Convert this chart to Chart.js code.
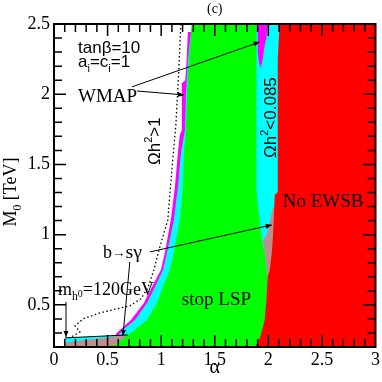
<!DOCTYPE html>
<html>
<head>
<meta charset="utf-8">
<script src="https://cdn.jsdelivr.net/npm/chart.js@4"></script>
<style>
  html, body { margin: 0; padding: 0; background: #fff; }
  canvas { display: block; }
</style>
</head>
<body>
<canvas id="grafico" width="382" height="382"></canvas>
<script>
// region boundaries, as [alpha, M0 (TeV)]
const magentaBand = [[1.249, 2.443], [1.6, 2.443], [1.6, 0.2], [0.569, 0.2], [0.569, 0.279], [0.587, 0.301],
  [0.718, 0.393], [0.839, 0.514], [0.913, 0.628], [0.997, 0.749], [1.034, 0.870], [1.090, 1.105],
  [1.128, 1.340], [1.156, 1.582], [1.174, 1.710], [1.193, 1.746], [1.193, 2.080], [1.225, 2.10], [1.236, 2.222]];
const cyanBand = [[1.286, 2.5], [2.2, 2.5], [2.2, 0.2], [0.103, 0.2], [0.103, 0.265], [0.60, 0.283],
  [0.643, 0.322], [0.755, 0.393], [0.867, 0.514], [0.941, 0.628], [1.016, 0.749], [1.053, 0.870],
  [1.118, 1.105], [1.156, 1.340], [1.184, 1.582], [1.212, 1.700], [1.222, 1.746], [1.231, 1.995], [1.250, 2.244]];
const graySlab = [[0.103, 0.2], [0.103, 0.232], [0.522, 0.270], [0.62, 0.282], [0.75, 0.282], [0.75, 0.2]];
const stopLSP = [[1.286, 2.5], [1.258, 2.244], [1.240, 1.995], [1.230, 1.746], [1.212, 1.582], [1.202, 1.340],
  [1.174, 1.105], [1.118, 0.870], [1.081, 0.749], [1.016, 0.628], [0.960, 0.514], [0.867, 0.393],
  [0.755, 0.322], [0.634, 0.251], [0.541, 0.2], [1.994, 0.2], [1.994, 0.699], [1.985, 0.749],
  [1.966, 0.870], [1.939, 0.963], [1.920, 1.105], [1.901, 1.212], [1.892, 1.304], [1.889, 2.5]];
const graySliver = [[2.041, 1.190], [2.2, 1.190], [2.2, 0.699], [1.994, 0.699], [1.985, 0.749], [1.966, 0.870],
  [1.948, 0.963], [1.985, 1.0], [2.013, 1.091]];
const noEWSB = [[2.106, 2.5], [2.097, 2.386], [2.088, 2.244], [2.088, 1.304], [2.060, 1.283], [2.050, 1.105],
  [2.041, 0.963], [2.032, 0.870], [2.013, 0.749], [1.994, 0.699], [1.982, 0.536], [1.966, 0.393],
  [1.936, 0.301], [1.901, 0.229], [1.873, 0.2], [3, 0.2], [3, 2.5]];
const wmapSpike = [[1.901, 2.5], [1.994, 2.5], [1.982, 2.40], [1.966, 2.351], [1.948, 2.25], [1.929, 2.187],
  [1.913, 2.22], [1.901, 2.30]];
const mh120 = [[1.184, 2.5], [1.165, 2.173], [1.137, 1.781], [1.100, 1.461], [1.062, 1.105], [0.988, 0.913],
  [0.932, 0.749], [0.876, 0.621], [0.811, 0.543], [0.708, 0.493], [0.587, 0.472], [0.429, 0.443],
  [0.270, 0.400], [0.196, 0.350], [0.242, 0.308], [0.149, 0.265]];

const xTicks = [0, 0.5, 1, 1.5, 2, 2.5, 3];
const yTicks = [0.5, 1, 1.5, 2, 2.5];

// arrows [from, to]
const setas = [
  [[0.727, 2.052], [1.920, 2.372]],
  [[0.774, 2.023], [1.212, 1.995]],
  [[0.895, 0.877], [2.032, 1.069]],
  [[0.708, 0.806], [0.643, 0.279]],
  [[0.112, 0.521], [0.112, 0.272]]
];
const linhaLEP = [[0.103, 0.265], [0.690, 0.286]];

const SERIF = 'Liberation Serif';
const SANS = 'Liberation Sans';
const notas = [
  { parts: [['tanβ=10', 1, 0]], at: [0.224, 2.296], family: SANS, size: 17 },
  { parts: [['a', 1, 0], ['i', 0.65, 5], ['=c', 1, 0], ['i', 0.65, 5], ['=1', 1, 0]], at: [0.224, 2.196], family: SANS, size: 17 },
  { parts: [['WMAP', 1, 0]], at: [0.224, 1.945], family: SERIF, size: 19 },
  { parts: [['Ωh', 1, 0], ['2', 0.65, -8], ['>1', 1, 0]], at: [0.988, 1.496], family: SANS, size: 17, rot: -Math.PI / 2 },
  { parts: [['Ωh', 1, 0], ['2', 0.65, -8], ['<0.085', 1, 0]], at: [2.075, 1.546], family: SANS, size: 17, rot: -Math.PI / 2 },
  { parts: [['No EWSB', 1, 0]], at: [2.134, 1.198], family: SERIF, size: 19 },
  { parts: [['b', 1, 0], ['→', 0.75, -1], ['sγ', 1.1, 0]], at: [0.457, 0.835], family: SERIF, size: 18 },
  { parts: [['m', 1, 0], ['h', 0.65, 5], ['0', 0.55, 2], ['=120GeV', 1, 0]], at: [0.037, 0.571], family: SERIF, size: 18 },
  { parts: [['stop LSP', 1, 0]], at: [1.193, 0.5], family: SERIF, size: 19 }
];

function paraPontos(arr) {
  return arr.map(([a, m]) => ({ x: a, y: m }));
}

function regiao(arr, cor, ordem) {
  return {
    data: paraPontos(arr),
    showLine: true,
    fill: 'shape',
    backgroundColor: cor,
    borderColor: cor,
    borderWidth: 0,
    pointRadius: 0,
    tension: 0,
    order: ordem
  };
}

function textoRico(ctx, parts, x, y, family, size, rot) {
  ctx.save();
  ctx.translate(x, y);
  ctx.rotate(rot || 0);
  ctx.textAlign = 'left';
  ctx.textBaseline = 'alphabetic';
  let cx = 0;
  for (const [t, s, dy] of parts) {
    ctx.font = `${size * s}px "${family}"`;
    ctx.fillText(t, cx, dy);
    cx += ctx.measureText(t).width;
  }
  ctx.restore();
}

function larguraRica(ctx, parts, family, size) {
  let w = 0;
  for (const [t, s] of parts) {
    ctx.font = `${size * s}px "${family}"`;
    w += ctx.measureText(t).width;
  }
  return w;
}

function seta(ctx, x1, y1, x2, y2) {
  ctx.beginPath();
  ctx.moveTo(x1, y1);
  ctx.lineTo(x2, y2);
  ctx.stroke();
  const ang = Math.atan2(y2 - y1, x2 - x1);
  const L = 6, W = 2.5;
  ctx.beginPath();
  ctx.moveTo(x2, y2);
  ctx.lineTo(x2 - L * Math.cos(ang) + W * Math.sin(ang), y2 - L * Math.sin(ang) - W * Math.cos(ang));
  ctx.lineTo(x2 - L * Math.cos(ang) - W * Math.sin(ang), y2 - L * Math.sin(ang) + W * Math.cos(ang));
  ctx.closePath();
  ctx.fill();
}

const fundoBranco = {
  id: 'fundoBranco',
  beforeDraw(chart) {
    const ctx = chart.ctx;
    ctx.save();
    ctx.fillStyle = '#fff';
    ctx.fillRect(0, 0, chart.width, chart.height);
    ctx.restore();
  }
};

const extras = {
  id: 'extras',
  afterDatasetsDraw(chart) {
    const { ctx, chartArea: a, scales: { x, y } } = chart;
    const px = v => x.getPixelForValue(v);
    const py = v => y.getPixelForValue(v);
    ctx.save();
    ctx.strokeStyle = '#000';
    ctx.fillStyle = '#000';

    // arrows and LEP line
    ctx.lineWidth = 1;
    setas.forEach(([p, q]) => seta(ctx, px(p[0]), py(p[1]), px(q[0]), py(q[1])));
    ctx.beginPath();
    ctx.moveTo(px(linhaLEP[0][0]), py(linhaLEP[0][1]));
    ctx.lineTo(px(linhaLEP[1][0]), py(linhaLEP[1][1]));
    ctx.stroke();

    // inward ticks on all four sides
    ctx.lineWidth = 1.5;
    ctx.beginPath();
    for (let i = 1; i < 30; i++) {
      const xx = px(i / 10);
      const len = i % 5 === 0 ? 12 : 8;
      ctx.moveTo(xx, a.bottom); ctx.lineTo(xx, a.bottom - len);
      ctx.moveTo(xx, a.top); ctx.lineTo(xx, a.top + len);
    }
    for (let i = 3; i < 25; i++) {
      const yy = py(i / 10);
      const len = i % 5 === 0 ? 12 : 8;
      ctx.moveTo(a.left, yy); ctx.lineTo(a.left + len, yy);
      ctx.moveTo(a.right, yy); ctx.lineTo(a.right - len, yy);
    }
    ctx.stroke();
    ctx.lineWidth = 2;
    ctx.strokeRect(a.left, a.top, a.right - a.left, a.bottom - a.top);

    // labels
    notas.forEach(n => textoRico(ctx, n.parts, px(n.at[0]), py(n.at[1]), n.family, n.size, n.rot));

    // panel title and axis titles
    ctx.font = `14px "${SERIF}"`;
    ctx.textAlign = 'center';
    ctx.fillText('(c)', (a.left + a.right) / 2, a.top - 11);
    ctx.font = `20px "${SERIF}"`;
    ctx.fillText('α', (a.left + a.right) / 2, 373);
    const tituloY = [['M', 1, 0], ['0', 0.65, 5], [' [TeV]', 1, 0]];
    const w = larguraRica(ctx, tituloY, SERIF, 18);
    textoRico(ctx, tituloY, 16, 192 + w / 2, SERIF, 18, -Math.PI / 2);
    ctx.restore();
  }
};

const grafico = new Chart(document.getElementById('grafico').getContext('2d'), {
  type: 'scatter',
  data: {
    datasets: [
      regiao(magentaBand, '#ff00ff', 9),
      regiao(cyanBand, '#00ffff', 8),
      regiao(graySlab, '#bc8f8f', 7),
      regiao(stopLSP, '#00ff00', 6),
      regiao(graySliver, '#bc8f8f', 5),
      regiao(noEWSB, '#ff0000', 4),
      regiao(wmapSpike, '#ff00ff', 3),
      {
        data: paraPontos(mh120),
        showLine: true,
        fill: false,
        borderColor: '#000',
        borderWidth: 1.3,
        borderDash: [1.5, 2.5],
        pointRadius: 0,
        tension: 0,
        order: 1
      }
    ]
  },
  options: {
    responsive: false,
    animation: false,
    devicePixelRatio: 1,
    layout: { padding: { top: 24, right: 6, left: 0, bottom: 0 } },
    plugins: { legend: { display: false }, tooltip: { enabled: false } },
    scales: {
      x: {
        type: 'linear',
        min: 0,
        max: 3,
        afterBuildTicks: s => { s.ticks = xTicks.map(v => ({ value: v })); },
        afterFit: s => { s.height = 35; },
        grid: { display: false, drawTicks: false },
        border: { display: false },
        ticks: {
          autoSkip: false,
          maxRotation: 0,
          padding: 2,
          color: '#000',
          font: { family: SERIF, size: 18 },
          callback: v => String(v)
        }
      },
      y: {
        type: 'linear',
        min: 0.2,
        max: 2.5,
        afterBuildTicks: s => { s.ticks = yTicks.map(v => ({ value: v })); },
        afterFit: s => { s.width = 54; },
        grid: { display: false, drawTicks: false },
        border: { display: false },
        ticks: {
          padding: 4,
          color: '#000',
          font: { family: SERIF, size: 18 },
          callback: v => String(v)
        }
      }
    }
  },
  plugins: [fundoBranco, extras]
});
</script>
</body>
</html>
